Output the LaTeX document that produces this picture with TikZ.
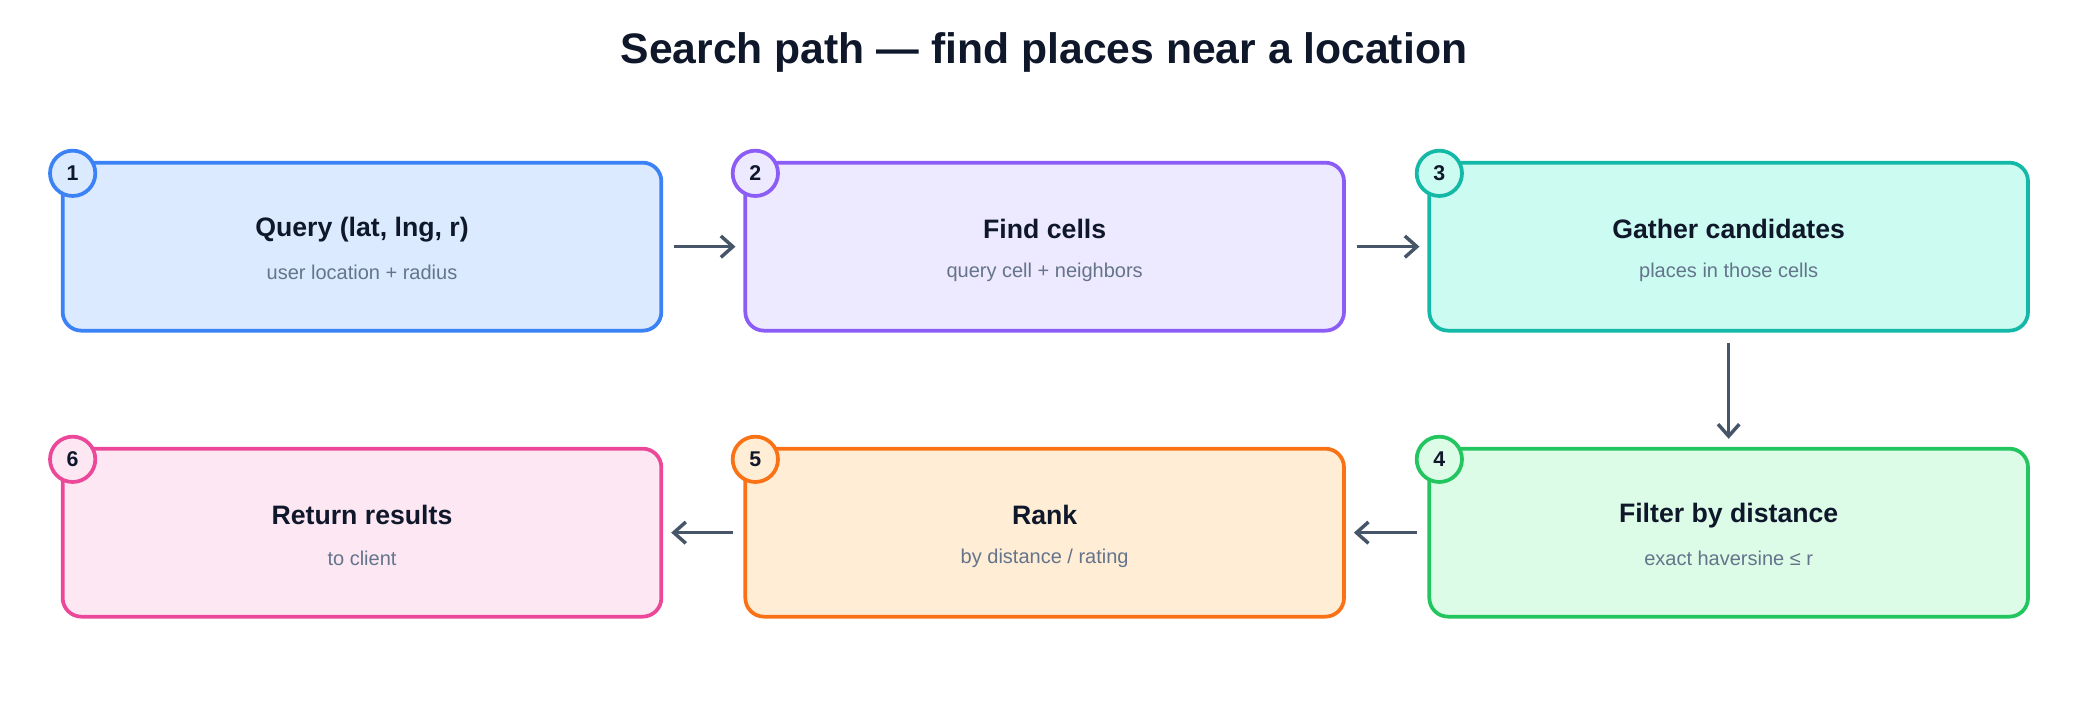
\documentclass[tikz,border=0pt]{standalone}
\usepackage{fontspec}
\setmainfont{Liberation Sans}
\usetikzlibrary{arrows.meta}
\definecolor{tcol}{HTML}{0F172A}
\definecolor{scol}{HTML}{64748B}
\definecolor{acol}{HTML}{475569}
\definecolor{bA}{HTML}{3B82F6}\definecolor{fA}{HTML}{DBEAFE}
\definecolor{bB}{HTML}{8B5CF6}\definecolor{fB}{HTML}{EDE9FE}
\definecolor{bC}{HTML}{14B8A6}\definecolor{fC}{HTML}{CCFBF1}
\definecolor{bD}{HTML}{22C55E}\definecolor{fD}{HTML}{DCFCE7}
\definecolor{bE}{HTML}{F97316}\definecolor{fE}{HTML}{FFEDD5}
\definecolor{bF}{HTML}{EC4899}\definecolor{fF}{HTML}{FCE7F3}
\tikzset{
 box/.style={draw=#1, line width=1.4pt, rounded corners=7pt, minimum width=224.5pt, minimum height=63pt},
 badge/.style={circle, draw=#1, line width=1.4pt, minimum size=17pt, inner sep=0pt, font=\bfseries\fontsize{8}{9}\selectfont, text=tcol},
 ttl/.style={font=\bfseries\fontsize{10}{12}\selectfont, text=tcol},
 sub/.style={font=\fontsize{7.5}{9}\selectfont, text=scol},
 arr/.style={draw=acol, line width=1.3pt, -{Straight Barb[length=4.5pt,width=8pt]}}
}
\begin{document}
\begin{tikzpicture}[x=0.5pt,y=-0.5pt]
\useasboundingbox (0,0) rectangle (1560,528);
\node[font=\bfseries\fontsize{16}{19}\selectfont, text=tcol] (title) at (783,39) {Search path — find places near a location};
\newcommand{\stp}[8]{%
 \node[box=#4, fill=#5] (#1) at (#2,#3) {};
 \node[ttl] (#1t) at (#2,#3-13) {#7};
 \node[sub] (#1s) at (#2,#3+19) {#8};
 \node[badge=#4, fill=#5] (#1b) at (#2-217,#3-55) {#6};
}
\stp{s1}{271.5}{185}{bA}{fA}{1}{Query (lat, lng, r)}{user location + radius}
\stp{s2}{783.5}{185}{bB}{fB}{2}{Find cells}{query cell + neighbors}
\stp{s3}{1296.5}{185}{bC}{fC}{3}{Gather candidates}{places in those cells}
\stp{s4}{1296.5}{399.5}{bD}{fD}{4}{Filter by distance}{exact haversine ≤ r}
\stp{s5}{783.5}{399.5}{bE}{fE}{5}{Rank}{by distance / rating}
\stp{s6}{271.5}{399.5}{bF}{fF}{6}{Return results}{to client}
\draw[arr] ([xshift=4pt]s1.east) -- ([xshift=-3pt]s2.west);
\draw[arr] ([xshift=4pt]s2.east) -- ([xshift=-3pt]s3.west);
\draw[arr] ([yshift=-4pt]s3.south) -- ([yshift=3pt]s4.north);
\draw[arr] ([xshift=-4pt]s4.west) -- ([xshift=3pt]s5.east);
\draw[arr] ([xshift=-4pt]s5.west) -- ([xshift=3pt]s6.east);
\end{tikzpicture}
\end{document}
